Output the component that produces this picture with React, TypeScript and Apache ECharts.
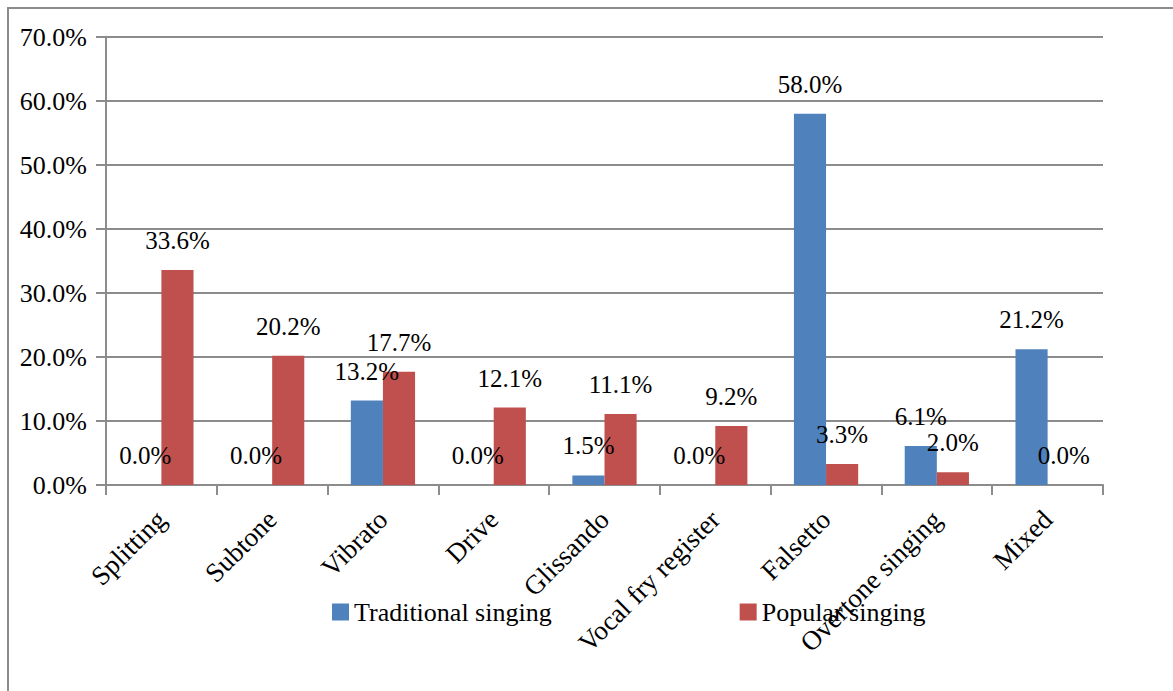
import React, { useEffect, useRef } from "react";
import * as echarts from "echarts";

const categories = [
  "Splitting",
  "Subtone",
  "Vibrato",
  "Drive",
  "Glissando",
  "Vocal fry register",
  "Falsetto",
  "Overtone singing",
  "Mixed",
];
const traditional = [0, 0, 13.2, 0, 1.5, 0, 58.0, 6.1, 21.2];
const popular = [33.6, 20.2, 17.7, 12.1, 11.1, 9.2, 3.3, 2.0, 0];
const seriesNames = ["Traditional singing", "Popular singing"];

const FONT = "'Liberation Serif', 'Times New Roman', serif";
const GRAY = "#8c8c8c";

export default function App() {
  const ref = useRef<HTMLDivElement>(null);
  useEffect(() => {
    if (!ref.current) return;
    const chart = echarts.init(ref.current, undefined, { renderer: "svg" });
    const labelCfg = {
      show: true,
      position: "top" as const,
      distance: 17,
      color: "#000",
      fontFamily: FONT,
      fontSize: 25,
      formatter: (p: any) => `${Number(p.value).toFixed(1)}%`,
    };
    chart.setOption({
      animation: false,
      backgroundColor: "#fff",
      graphic: [
        {
          type: "rect",
          shape: { x: 8, y: 8, width: 1200, height: 720 },
          style: { fill: "none", stroke: GRAY, lineWidth: 2 },
          silent: true,
        },
      ],
      grid: { left: 106, right: 70, top: 37, bottom: 206, containLabel: false },
      legend: {
        data: seriesNames,
        left: 327,
        top: 594,
        itemWidth: 17,
        itemHeight: 17,
        itemGap: 188,
        icon: "rect",
        textStyle: { color: "#000", fontFamily: FONT, fontSize: 26 },
      },
      xAxis: {
        type: "category",
        data: categories,
        boundaryGap: true,
        axisLine: { lineStyle: { color: GRAY, width: 2 } },
        axisTick: { show: true, length: 10, lineStyle: { color: GRAY, width: 2 } },
        axisLabel: {
          rotate: 45,
          interval: 0,
          margin: 30,
          color: "#000",
          fontFamily: FONT,
          fontSize: 27,
        },
      },
      yAxis: {
        type: "value",
        min: 0,
        max: 70,
        interval: 10,
        axisLine: { show: true, lineStyle: { color: GRAY, width: 2 } },
        axisTick: { show: true, length: 10, lineStyle: { color: GRAY, width: 2 } },
        splitLine: { lineStyle: { color: GRAY, width: 2 } },
        axisLabel: {
          margin: 19,
          color: "#000",
          fontFamily: FONT,
          fontSize: 26,
          formatter: (v: number) => `${v.toFixed(1)}%`,
        },
      },
      series: [
        {
          name: seriesNames[0],
          type: "bar",
          data: traditional,
          barGap: "0%",
          barCategoryGap: "42%",
          itemStyle: { color: "#4F81BD" },
          label: labelCfg,
        },
        {
          name: seriesNames[1],
          type: "bar",
          data: popular,
          barGap: "0%",
          barCategoryGap: "42%",
          itemStyle: { color: "#C0504D" },
          label: labelCfg,
        },
      ],
    });
    return () => chart.dispose();
  }, []);
  return (
    <div
      ref={ref}
      style={{ position: "fixed", left: 0, top: 0, width: 1173, height: 691 }}
    />
  );
}
